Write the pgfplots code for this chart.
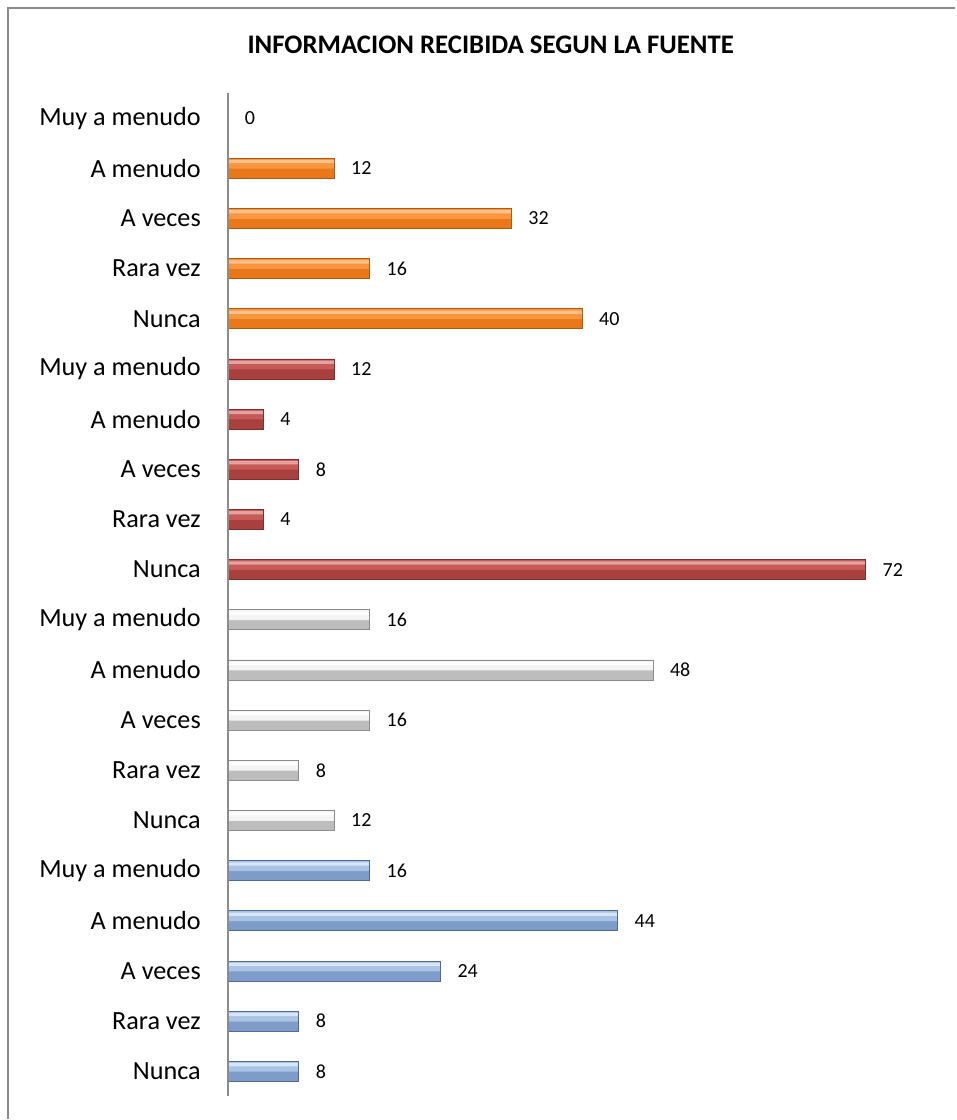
\documentclass[border=0pt]{standalone}
\usepackage{pgfplots}
\usepackage{pgfplotstable}
\pgfplotsset{compat=1.18}
\usepackage{fontspec}
\setmainfont{Carlito}
% edge / lower / upper / highlight colours
\definecolor{oEdge}{HTML}{B0580C}
\definecolor{oLow}{HTML}{E8781A}
\definecolor{oUp}{HTML}{F7963E}
\definecolor{oHl}{HTML}{FBC08C}
\definecolor{rEdge}{HTML}{7F2D2B}
\definecolor{rLow}{HTML}{A8403D}
\definecolor{rUp}{HTML}{C65A57}
\definecolor{rHl}{HTML}{E3A3A1}
\definecolor{gEdge}{HTML}{8C8C8C}
\definecolor{gLow}{HTML}{BDBDBD}
\definecolor{gUp}{HTML}{F4F4F4}
\definecolor{gHl}{HTML}{FFFFFF}
\definecolor{bEdge}{HTML}{4F6A9A}
\definecolor{bLow}{HTML}{7F9CC9}
\definecolor{bUp}{HTML}{A9C3E6}
\definecolor{bHl}{HTML}{D6E5F8}
\definecolor{frame}{HTML}{8C8C8C}
\pgfplotstableread{
v y
0 0
12 1
32 2
16 3
40 4
}\tabO
\pgfplotstableread{
v y
12 5
4 6
8 7
4 8
72 9
}\tabR
\pgfplotstableread{
v y
16 10
48 11
16 12
8 13
12 14
}\tabG
\pgfplotstableread{
v y
16 15
44 16
24 17
8 18
8 19
}\tabB
\newcommand\groupbars[5]{%
  \addplot[draw=#2, line width=0.4pt, fill=#3, bar width=10pt, bar shift=0pt] table[x=v,y=y] {#1};
  \addplot[draw=none, fill=#4, bar width=5pt, bar shift=2.3pt, nodes near coords=] table[x=v,y=y] {#1};
  \addplot[draw=none, fill=#5, bar width=1.6pt, bar shift=3.3pt, nodes near coords=] table[x=v,y=y] {#1};
  \addplot[draw=#2, line width=0.4pt, fill=none, bar width=10pt, bar shift=0pt, nodes near coords=] table[x=v,y=y] {#1};
}
\begin{document}
\begin{tikzpicture}
\path (0,0) rectangle (478pt,-560pt);
\draw[frame, line width=0.6pt] (4pt,-560pt) -- (4pt,-4pt) -- (478pt,-4pt);
\node[font=\fontsize{13.4}{15}\selectfont\bfseries] at (245.5pt,-22.5pt) {INFORMACION RECIBIDA SEGUN LA FUENTE};
\begin{axis}[
  at={(114pt,-46.5pt)}, anchor=north west,
  scale only axis, width=354.5pt, height=502pt,
  xmin=0, xmax=80,
  ymin=-0.5, ymax=19.5, y dir=reverse,
  axis x line=none,
  axis y line*=left,
  y axis line style={draw=frame, line width=0.8pt, -},
  axis on top,
  ytick={0,...,19},
  yticklabels={Muy a menudo, A menudo, A veces, Rara vez, Nunca,
               Muy a menudo, A menudo, A veces, Rara vez, Nunca,
               Muy a menudo, A menudo, A veces, Rara vez, Nunca,
               Muy a menudo, A menudo, A veces, Rara vez, Nunca},
  ytick style={draw=none},
  yticklabel style={font=\fontsize{13.1}{15}\selectfont, xshift=-5.8pt},
  xbar,
  /pgf/number format/assume math mode=true,
  nodes near coords,
  nodes near coords style={anchor=west, xshift=5pt, font=\fontsize{10}{12}\selectfont, text=black},
  clip=false,
]
\groupbars{\tabO}{oEdge}{oLow}{oUp}{oHl}
\groupbars{\tabR}{rEdge}{rLow}{rUp}{rHl}
\groupbars{\tabG}{gEdge}{gLow}{gUp}{gHl}
\groupbars{\tabB}{bEdge}{bLow}{bUp}{bHl}
\end{axis}
\end{tikzpicture}
\end{document}
